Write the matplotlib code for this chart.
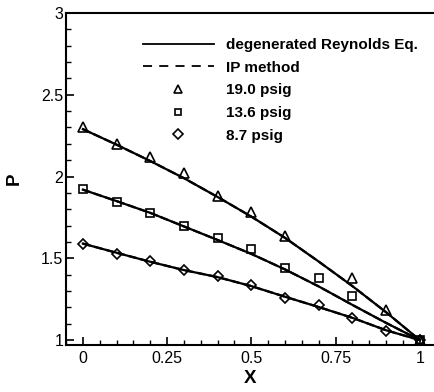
import matplotlib
matplotlib.use("Agg")
import matplotlib.pyplot as plt
from matplotlib.lines import Line2D
from matplotlib.ticker import MultipleLocator

plt.rcParams['font.family'] = ['Liberation Sans', 'DejaVu Sans']

# measured points
x_pts = [0.0, 0.1, 0.2, 0.3, 0.4, 0.5, 0.6, 0.7, 0.8, 0.9, 1.0]
x_tri = [0.0, 0.1, 0.2, 0.3, 0.4, 0.5, 0.6, 0.8, 0.9, 1.0]
p_190 = [2.30, 2.20, 2.117, 2.02, 1.878, 1.784, 1.635, 1.381, 1.181, 1.0]
x_sq = [0.0, 0.1, 0.2, 0.3, 0.4, 0.5, 0.6, 0.7, 0.8, 1.0]
p_136 = [1.925, 1.847, 1.778, 1.696, 1.627, 1.559, 1.439, 1.381, 1.267, 1.0]
p_87 = [1.59, 1.528, 1.482, 1.426, 1.393, 1.336, 1.258, 1.212, 1.136, 1.058, 1.0]

# model curves (degenerated Reynolds eq. / IP method)
x_line = [0.0, 0.1, 0.2, 0.3, 0.4, 0.5, 0.6, 0.7, 0.8, 0.9, 1.0]
line_190 = [2.29, 2.195, 2.095, 1.99, 1.875, 1.755, 1.625, 1.48, 1.33, 1.17, 1.0]
line_136 = [1.92, 1.85, 1.778, 1.695, 1.612, 1.527, 1.432, 1.328, 1.215, 1.105, 1.0]
line_87 = [1.59, 1.534, 1.479, 1.428, 1.385, 1.33, 1.265, 1.202, 1.136, 1.06, 1.0]

fig = plt.figure(figsize=(4.34, 3.92), dpi=100)
ax = fig.add_axes([66 / 434, 1 - 345 / 392, 368 / 434, 332 / 392])

for yl in (line_190, line_136, line_87):
    ax.plot(x_line, yl, color='black', lw=1.6, ls='--')
    ax.plot(x_line, yl, color='black', lw=1.6)

mk = dict(color='black', ls='none', mfc='none', mew=1.2)
ax.plot(x_tri, p_190, marker='^', ms=6.5, **mk)
ax.plot(x_sq, p_136, marker='s', ms=5.5, **mk)
ax.plot(x_pts, p_87, marker='D', ms=5.5, **mk)

ax.set_xlim(-0.05, 1.042)
ax.set_ylim(0.97, 3.0)
ax.xaxis.set_minor_locator(MultipleLocator(0.05))
ax.yaxis.set_minor_locator(MultipleLocator(0.1))
ax.set_xticks([0, 0.25, 0.5, 0.75, 1])
ax.set_xticklabels(['0', '0.25', '0.5', '0.75', '1'])
ax.set_yticks([1, 1.5, 2, 2.5, 3])
ax.set_yticklabels(['1', '1.5', '2', '2.5', '3'])
ax.tick_params(which='major', direction='in', length=6, width=1.2, labelsize=11.5)
ax.tick_params(which='minor', direction='in', length=3.5, width=1.0)
ax.tick_params(axis='x', pad=4)
ax.tick_params(axis='y', pad=2)
for s in ax.spines.values():
    s.set_linewidth(1.5)
ax.spines['right'].set_visible(False)

ax.set_xlabel('X', fontsize=13.5, fontweight='bold', labelpad=3)
ax.set_ylabel('P', fontsize=13.5, fontweight='bold', labelpad=13)

handles = [
    Line2D([], [], color='black', lw=1.3),
    Line2D([], [], color='black', lw=1.3, ls=(0, (5, 4))),
    Line2D([], [], marker='^', ms=6, **mk),
    Line2D([], [], marker='s', ms=5, **mk),
    Line2D([], [], marker='D', ms=5, **mk),
]
labels = ['degenerated Reynolds Eq.', 'IP method', '19.0 psig', '13.6 psig', '8.7 psig']
ax.legend(handles, labels, loc='upper left', bbox_to_anchor=(0.209, 0.925),
          frameon=False, borderpad=0, borderaxespad=0, handlelength=4.65,
          handletextpad=0.78, labelspacing=0.57,
          prop={'weight': 'bold', 'size': 11})

fig.savefig('out.png', dpi=100)
